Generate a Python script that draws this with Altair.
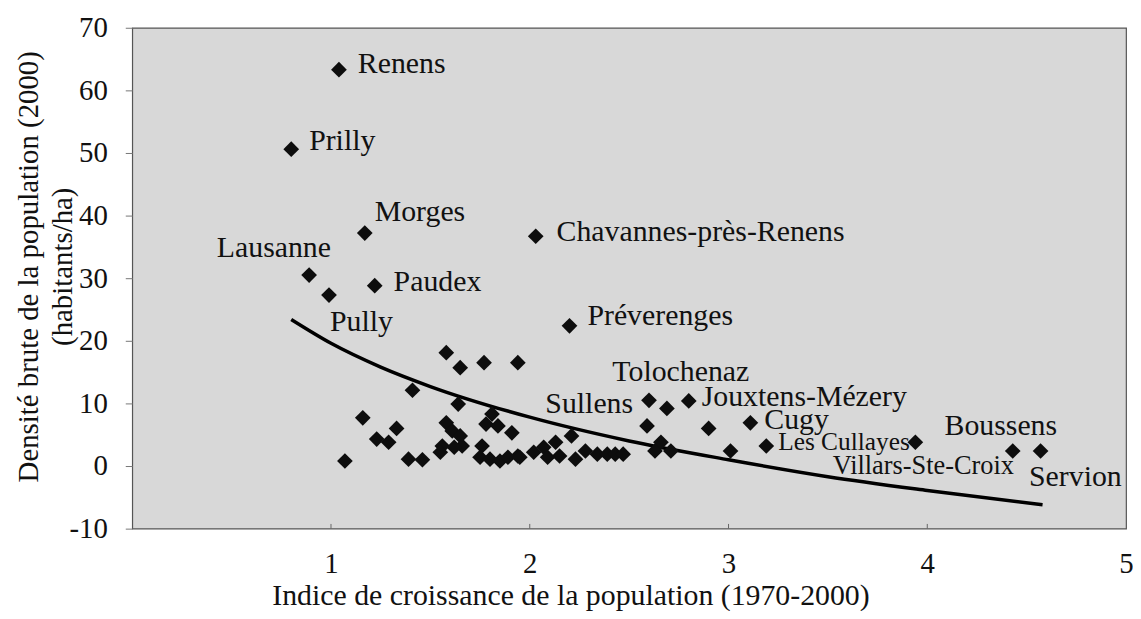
import altair as alt
import pandas as pd

# ---- data ----
names = [
    "Renens", "Prilly", "Morges", "Lausanne", "Pully", "Paudex",
    "Chavannes-près-Renens", "Préverenges", "Tolochenaz", "Jouxtens-Mézery",
    "Sullens", "Cugy", "Les Cullayes", "Villars-Ste-Croix", "Boussens", "Servion",
]
named_x = [1.04, 0.80, 1.17, 0.89, 0.99, 1.22, 2.03, 2.20, 2.60, 2.80,
           2.59, 3.11, 3.19, 3.94, 4.43, 4.57]
named_y = [63.3, 50.6, 37.2, 30.5, 27.3, 28.8, 36.7, 22.4, 10.5, 10.4,
           6.4, 6.9, 3.2, 3.8, 2.4, 2.4]

other_x = [1.58, 1.65, 1.77, 1.94, 1.41, 1.64, 1.16, 1.33, 1.23, 1.29,
           1.07, 1.39, 1.46, 1.58, 1.61, 1.65, 1.66, 1.56, 1.55, 1.62,
           1.81, 1.78, 1.84, 1.91, 1.76, 1.75, 1.80, 1.85, 1.89, 1.94,
           2.02, 2.07, 2.13, 2.15, 2.09, 2.21, 1.95, 2.23, 2.28, 2.34,
           2.39, 2.43, 2.47, 2.69, 2.90, 2.66, 2.63, 2.71, 3.01]
other_y = [18.1, 15.7, 16.5, 16.5, 12.1, 9.9, 7.7, 6.0, 4.3, 3.8,
           0.8, 1.1, 1.0, 6.9, 5.6, 4.8, 3.2, 3.2, 2.2, 3.0,
           8.3, 6.7, 6.4, 5.3, 3.2, 1.4, 1.1, 0.8, 1.4, 1.6,
           2.2, 3.0, 3.8, 1.6, 1.4, 4.8, 1.4, 1.1, 2.4, 1.9,
           1.9, 1.9, 1.9, 9.2, 6.0, 3.8, 2.4, 2.4, 2.4]

# trend curve
trend_x = [0.80, 1.00, 1.25, 1.50, 2.00, 2.50, 3.00, 3.50, 4.00, 4.58]
trend_y = [23.4, 19.6, 15.8, 12.7, 7.8, 4.0, 1.0, -1.7, -3.9, -6.2]

x_ticks = [1, 2, 3, 4]
x_label_values = [0, 1, 2, 3, 4, 5]
y_ticks = [-10, 0, 10, 20, 30, 40, 50, 60, 70]

# ---- label layout: (dx, dy, align, font size) ----
label_layout = {
    "Renens": (19, -6, "left", 30),
    "Prilly": (18, -8, "left", 30),
    "Morges": (10, -21, "left", 30),
    "Lausanne": (22, -27, "right", 30),
    "Pully": (1, 27, "left", 30),
    "Paudex": (19, -4, "left", 30),
    "Chavannes-près-Renens": (21, -4, "left", 30),
    "Préverenges": (18, -10, "left", 30),
    "Tolochenaz": (32, -28, "center", 30),
    "Jouxtens-Mézery": (13, -4, "left", 30),
    "Sullens": (-14, -22, "right", 30),
    "Cugy": (14, -3, "left", 30),
    "Les Cullayes": (12, -4, "left", 25.5),
    "Villars-Ste-Croix": (8, 24, "center", 26.5),
    "Boussens": (-12, -25, "center", 30),
    "Servion": (35, 26, "center", 30),
}

FONT = "Liberation Serif"

pts = pd.DataFrame({
    "x": named_x + other_x,
    "y": named_y + other_y,
})
named_df = pd.DataFrame({"name": names, "x": named_x, "y": named_y})
trend_df = pd.DataFrame({"x": trend_x, "y": trend_y})
ticks_df = pd.DataFrame({"x": x_ticks})

xscale = alt.Scale(domain=[0, 5], nice=False, zero=False)
yscale = alt.Scale(domain=[-10, 70], nice=False, zero=False)

xenc = alt.X(
    "x:Q", scale=xscale,
    axis=alt.Axis(
        title="Indice de croissance de la population (1970-2000)",
        values=x_label_values,
        labelExpr="datum.value == 0 ? '' : '' + datum.value",
        grid=False, domain=False, ticks=False, labelPadding=21,
        labelFlush=False, labelFontSize=29, titleFontSize=30,
        titleX=441, titleY=52, titleAlign="center", titleBaseline="top",
    ),
)
yenc = alt.Y(
    "y:Q", scale=yscale,
    axis=alt.Axis(
        title=["Densité brute de la population (2000)", "(habitants/ha)"],
        values=y_ticks, grid=False, domain=False,
        labelExpr="'' + datum.value", labelFlush=False,
        tickSize=7, tickColor="#777", labelPadding=18,
        labelFontSize=29, titleFontSize=29, titleLineHeight=34,
        titleAngle=270, titleX=-89, titleY=240,
        titleAlign="center", titleBaseline="bottom",
    ),
)

trend = alt.Chart(trend_df).mark_line(
    color="#000", strokeWidth=3.5, interpolate="monotone"
).encode(x=xenc, y=yenc)

points = alt.Chart(pts).mark_point(
    shape="diamond", filled=True, size=250, color="#0d0d0d", opacity=1
).encode(x="x:Q", y="y:Q")

xticks = alt.Chart(ticks_df).mark_rule(color="#666", strokeWidth=1).encode(
    x="x:Q", y=alt.datum(-10), y2=alt.datum(-9.25)
)

label_layers = []
for nm, (dx, dy, al, fs) in label_layout.items():
    sub = named_df[named_df["name"] == nm]
    label_layers.append(
        alt.Chart(sub).mark_text(
            dx=dx, dy=dy, align=al, baseline="middle",
            font=FONT, fontSize=fs, color="#111",
        ).encode(x="x:Q", y="y:Q", text="name:N")
    )

chart = alt.layer(trend, points, xticks, *label_layers).properties(
    width=1000, height=504,
    padding={"left": 125, "top": 18, "right": 7, "bottom": 81},
    autosize=alt.AutoSizeParams(type="none"),
    background="white",
).configure_view(
    fill="#d8d8d8", stroke="#555", strokeWidth=1.2
).configure_axis(
    labelFont=FONT, titleFont=FONT, labelColor="#111", titleColor="#111",
    titleFontWeight="normal",
).configure_text(font=FONT)

chart.save("out.html", embed_options={"renderer": "svg", "actions": False})
